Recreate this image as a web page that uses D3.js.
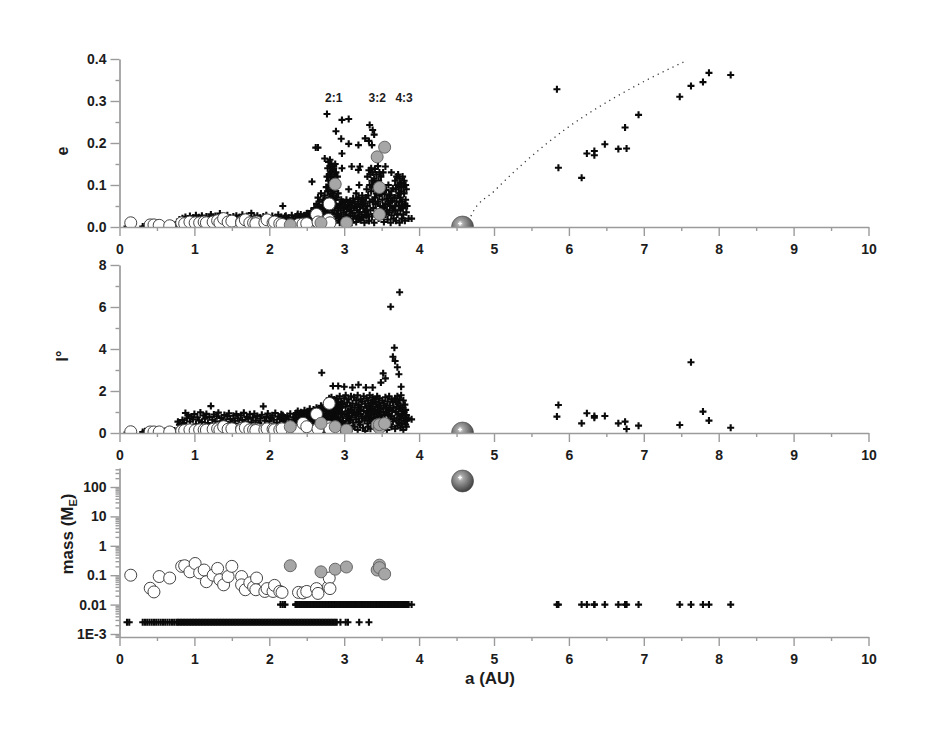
<!DOCTYPE html>
<html><head><meta charset="utf-8">
<script src="https://cdn.jsdelivr.net/npm/d3@7"></script>
<style>body{margin:0;background:#fff}svg{display:block}</style>
</head><body><svg id="c" width="926" height="737"></svg>
<script>
// ---------------- DATA ----------------
const xTickValues = [0,1,2,3,4,5,6,7,8,9,10];
const xMinorTicks = [0.5,1.5,2.5,3.5,4.5,5.5,6.5,7.5,8.5,9.5];
const eTickValues = [0,0.1,0.2,0.3,0.4];
const eTickLabels = ["0.0","0.1","0.2","0.3","0.4"];
const eMinorTicks = [0.05,0.15,0.25,0.35];
const iTickValues = [0,2,4,6,8];
const iMinorTicks = [1,3,5,7];
const massTickValues = [0.001,0.01,0.1,1,10,100];
const massTickLabels = ["1E-3","0.01","0.1","1","10","100"];
const resonanceLabels = ["2:1","3:2","4:3"];
const resonanceA = [2.86,3.44,3.80];

// embryos: [a (AU), e, inclination (deg), mass (M_E)]
const whiteEmbryos = [
 [0.15,0.010,0.06,0.10],[0.41,0.005,0.05,0.036],[0.46,0.005,0.05,0.027],[0.53,0.004,0.05,0.09],
 [0.67,0.003,0.05,0.08],[0.83,0.010,0.10,0.20],[0.87,0.008,0.12,0.21],[0.94,0.012,0.15,0.13],
 [1.01,0.010,0.12,0.25],[1.07,0.010,0.15,0.12],[1.13,0.012,0.15,0.15],[1.16,0.010,0.14,0.06],
 [1.25,0.012,0.18,0.10],[1.31,0.015,0.20,0.17],[1.34,0.010,0.15,0.07],[1.39,0.020,0.30,0.047],
 [1.45,0.012,0.18,0.09],[1.50,0.014,0.20,0.20],[1.63,0.012,0.22,0.09],[1.63,0.010,0.15,0.047],
 [1.68,0.017,0.25,0.032],[1.74,0.010,0.15,0.055],[1.79,0.010,0.15,0.04],[1.83,0.012,0.18,0.08],
 [1.82,0.008,0.12,0.032],[1.94,0.010,0.15,0.028],[1.97,0.017,0.20,0.035],[2.05,0.010,0.18,0.028],
 [2.07,0.012,0.15,0.045],[2.14,0.008,0.15,0.028],[2.17,0.006,0.20,0.026],[2.39,0.006,0.10,0.026],
 [2.45,0.007,0.46,0.025],[2.50,0.008,0.30,0.028],[2.63,0.030,0.90,0.035],[2.65,0.012,0.20,0.024],
 [2.79,0.018,0.30,0.04],[2.80,0.055,1.41,0.08],[2.81,0.010,0.20,0.035]
];
const grayEmbryos = [
 [2.28,0.005,0.30,0.21],[2.69,0.010,0.46,0.13],[2.88,0.102,0.30,0.16],[3.03,0.010,0.14,0.19],
 [3.44,0.167,0.38,0.15],[3.47,0.094,0.24,0.22],[3.47,0.030,0.40,0.18],[3.54,0.190,0.45,0.11]
];
const giantPlanet = [[4.58,0.0,0.0,160]];

// dotted curve (top panel)
const curveA = [4.66,4.70,5.00,5.37,5.97,6.59,7.04,7.57];
const curveE = [0.000,0.029,0.085,0.148,0.235,0.306,0.350,0.396];

// planetesimals: [a, e, inclination]
const massLow = 0.0025;
const massHigh = 0.01;
const planetesimalsLow = [
 [0.10,0.001,0.02],[0.13,0.002,0.03],
 [0.31,0.001,0.05],[0.34,0.002,0.08],[0.37,0.001,0.04],[0.40,0.003,0.10],[0.43,0.002,0.06],[0.46,0.001,0.03],
 [0.49,0.002,0.09],[0.52,0.003,0.05],[0.55,0.001,0.07],[0.58,0.002,0.04],[0.61,0.003,0.10],[0.64,0.002,0.06],
 [0.67,0.001,0.08],[0.70,0.003,0.05],[0.73,0.002,0.12],[0.76,0.004,0.09],
 [0.78,0.012,0.54],[0.80,0.018,0.40],[0.82,0.008,0.30],[0.84,0.021,0.62],[0.86,0.015,0.48],[0.88,0.024,0.95],
 [0.90,0.010,0.70],[0.92,0.019,0.85],[0.94,0.026,0.55],[0.96,0.013,0.78],[0.98,0.022,0.65],[1.00,0.017,0.90],
 [1.02,0.028,0.42],[1.04,0.011,0.75],[1.06,0.023,0.60],[1.08,0.016,0.98],[1.10,0.027,0.52],[1.12,0.009,0.83],
 [1.14,0.020,0.68],[1.16,0.025,0.91],[1.18,0.014,0.47],[1.20,0.022,0.77],[1.22,0.030,1.28],[1.24,0.012,0.63],
 [1.26,0.019,0.88],[1.28,0.026,0.56],[1.30,0.015,0.80],[1.32,0.023,0.97],[1.34,0.032,0.44],[1.36,0.018,0.72],
 [1.38,0.024,0.61],[1.40,0.010,0.86],[1.42,0.021,0.53],[1.44,0.028,0.79],[1.46,0.016,0.94],[1.48,0.022,0.66],
 [1.50,0.013,0.49],[1.52,0.025,0.82],[1.54,0.019,0.58],[1.56,0.027,0.90],[1.58,0.011,0.70],[1.60,0.023,0.45],
 [1.62,0.017,0.84],[1.64,0.029,0.62],[1.66,0.014,0.96],[1.68,0.021,0.54],[1.70,0.026,0.77],[1.72,0.012,0.68],
 [1.74,0.020,0.89],[1.76,0.033,0.51],[1.78,0.016,0.74],[1.80,0.024,0.92],[1.82,0.018,0.59],[1.84,0.027,0.81],
 [1.86,0.010,0.47],[1.88,0.022,0.69],[1.90,0.015,0.87],[1.92,0.025,1.27],[1.94,0.019,0.58],[1.96,0.028,0.76],
 [1.98,0.013,0.93],[2.00,0.021,0.55],[2.02,0.017,0.71],[2.04,0.026,0.84],[2.06,0.011,0.63],[2.08,0.023,0.95],
 [2.10,0.019,0.50],[2.12,0.029,0.78],[2.14,0.014,0.66],[2.16,0.024,0.89],[2.18,0.050,0.57],[2.20,0.018,0.73],
 [2.22,0.027,0.46],[2.24,0.012,0.81],[2.26,0.022,0.64],[2.28,0.016,0.92],[2.30,0.028,0.52],[2.32,0.020,0.75],
 [2.34,0.013,0.60],[2.36,0.025,0.86],[2.38,0.031,0.48],[2.40,0.017,0.69],[2.42,0.023,0.94],[2.44,0.010,0.56],
 [2.46,0.027,0.80],[2.48,0.019,0.43],[2.50,0.032,0.98],[2.52,0.015,0.62],[2.54,0.026,1.15],[2.56,0.038,0.74],
 [2.58,0.021,0.40],[2.60,0.045,1.05],[2.62,0.012,0.55],[2.64,0.033,1.12],[2.66,0.050,0.30],[2.68,0.024,0.85],
 [2.70,0.041,0.20],[2.72,0.018,1.20],[2.74,0.062,0.65],[2.76,0.035,0.10],[2.78,0.085,1.35],[2.80,0.048,0.45],
 [2.82,0.120,1.60],[2.84,0.070,0.25],[2.86,0.140,0.90],[2.88,0.095,1.45],[2.90,0.030,0.35],
 [2.95,0.015,0.60],[3.02,0.025,0.40],[3.05,0.010,0.80],[3.20,0.020,0.50],[3.33,0.015,0.70]
];
const planetesimalsHigh = [
 [2.15,0.020,0.72],[2.18,0.015,0.85],[2.21,0.025,0.66],
 [2.35,0.018,0.75],[2.36,0.010,0.95],[2.37,0.026,0.58],[2.38,0.014,1.05],[2.40,0.022,0.82],[2.41,0.008,0.68],
 [2.42,0.030,0.99],[2.43,0.017,0.52],[2.45,0.024,0.88],[2.46,0.012,0.71],[2.47,0.028,1.08],[2.48,0.020,0.62],
 [2.50,0.015,0.93],[2.51,0.033,0.78],[2.52,0.011,0.55],[2.53,0.025,1.02],[2.55,0.019,0.84],[2.56,0.029,0.47],
 [2.57,0.013,0.97],[2.58,0.036,0.69],[2.59,0.022,1.12],[2.60,0.009,0.58],
 [2.61,0.040,0.30],[2.62,0.027,0.90],[2.63,0.055,1.20],[2.63,0.015,0.15],[2.64,0.035,0.62],[2.65,0.070,1.02],
 [2.65,0.022,0.40],[2.66,0.048,0.80],[2.67,0.010,1.15],[2.67,0.060,0.25],[2.68,0.030,0.95],[2.69,0.043,0.50],
 [2.69,0.080,1.30],[2.70,0.018,0.70],[2.71,0.052,0.10],[2.71,0.034,1.10],[2.72,0.065,0.55],[2.72,0.012,0.85],
 [2.73,0.045,1.25],[2.73,0.025,0.35],[2.74,0.075,0.75],[2.74,0.038,0.05],[2.75,0.058,1.05],[2.75,0.020,0.60],
 [2.76,0.095,0.90],[2.76,0.040,1.40],[2.77,0.120,0.30],[2.77,0.060,1.10],[2.77,0.015,0.65],[2.78,0.140,1.55],
 [2.78,0.085,0.45],[2.78,0.030,1.00],[2.79,0.110,0.20],[2.79,0.050,1.30],[2.79,0.155,0.80],[2.80,0.070,1.65],
 [2.80,0.125,0.55],[2.80,0.020,1.20],[2.81,0.100,0.95],[2.81,0.045,0.35],[2.81,0.145,1.45],[2.82,0.080,0.70],
 [2.82,0.130,1.15],[2.82,0.010,0.50],[2.83,0.105,1.70],[2.83,0.060,0.15],[2.83,0.150,0.85],[2.84,0.090,1.25],
 [2.84,0.035,0.60],[2.84,0.135,0.40],[2.85,0.115,1.05],[2.85,0.075,1.50],[2.85,0.025,0.90],[2.86,0.145,0.25],
 [2.86,0.055,1.35],[2.86,0.100,0.70],[2.87,0.125,1.60],[2.87,0.040,1.00],[2.87,0.085,0.45],[2.88,0.150,1.20],
 [2.88,0.065,0.80],[2.88,0.015,1.55],[2.89,0.110,0.55],[2.89,0.130,1.40],[2.89,0.050,0.30],[2.90,0.095,1.10],
 [2.90,0.070,1.65],[2.91,0.120,0.65],[2.91,0.030,1.25],[2.92,0.080,0.90],[2.92,0.045,1.45],
 [2.93,0.020,0.40],[2.94,0.055,1.20],[2.94,0.010,1.75],[2.95,0.040,0.75],[2.96,0.065,0.15],[2.96,0.025,1.50],
 [2.97,0.050,1.00],[2.98,0.012,0.55],[2.98,0.060,1.35],[2.99,0.035,0.25],[3.00,0.045,1.65],[3.00,0.018,0.90],
 [3.01,0.058,0.45],[3.02,0.030,1.25],[3.02,0.008,1.80],[3.03,0.065,0.70],[3.04,0.042,0.10],[3.04,0.022,1.45],
 [3.05,0.052,1.05],[3.06,0.015,0.35],[3.06,0.090,1.60],[3.07,0.038,0.80],[3.08,0.062,1.30],[3.08,0.026,0.60],
 [3.09,0.048,1.75],[3.10,0.010,1.10],[3.10,0.057,0.20],[3.11,0.033,1.40],[3.12,0.068,0.95],[3.12,0.020,0.50],
 [3.13,0.045,1.70],[3.14,0.060,0.30],[3.14,0.028,1.20],[3.15,0.050,0.85],[3.16,0.012,1.55],[3.16,0.080,0.65],
 [3.17,0.040,1.00],[3.18,0.055,0.15],[3.18,0.024,1.80],[3.19,0.066,1.35],[3.20,0.035,0.55],[3.20,0.100,1.10],
 [3.21,0.047,0.40],[3.22,0.016,1.60],[3.22,0.060,0.90],[3.23,0.030,1.25],[3.24,0.052,0.70],[3.24,0.075,1.50],
 [3.25,0.022,0.25],[3.26,0.044,1.75],[3.26,0.064,1.05],[3.27,0.010,0.60],[3.28,0.056,1.40],[3.28,0.036,0.10],
 [3.29,0.070,0.80],[3.30,0.026,1.20],
 [3.30,0.090,1.65],[3.31,0.050,0.45],[3.31,0.120,1.00],[3.32,0.030,1.55],[3.32,0.075,0.30],[3.33,0.135,0.85],
 [3.33,0.015,1.30],[3.34,0.100,0.60],[3.34,0.060,1.80],[3.35,0.125,1.15],[3.35,0.040,0.20],[3.36,0.085,1.45],
 [3.36,0.140,0.70],[3.37,0.025,1.00],[3.37,0.110,0.50],[3.38,0.065,1.70],[3.38,0.130,1.25],[3.39,0.045,0.35],
 [3.39,0.095,0.90],[3.40,0.115,1.60],[3.40,0.010,0.75],[3.41,0.070,1.10],[3.41,0.138,0.25],[3.42,0.055,1.50],
 [3.42,0.105,0.60],[3.43,0.080,1.35],[3.43,0.125,0.95],[3.44,0.035,1.75],[3.44,0.090,0.15],[3.45,0.145,1.20],
 [3.45,0.060,0.80],[3.46,0.110,1.45],[3.46,0.020,0.40],[3.47,0.075,1.00],[3.47,0.130,1.65],[3.48,0.050,0.55],
 [3.48,0.100,1.30],[3.49,0.120,0.85],[3.49,0.040,1.15],[3.50,0.085,0.30],
 [3.51,0.065,1.55],[3.51,0.025,0.70],[3.52,0.095,1.00],[3.53,0.045,1.40],[3.53,0.012,0.25],[3.54,0.078,0.85],
 [3.55,0.055,1.70],[3.55,0.030,0.50],[3.56,0.088,1.20],[3.57,0.040,0.95],[3.57,0.068,0.15],[3.58,0.018,1.50],
 [3.59,0.060,0.65],[3.59,0.100,1.10],[3.60,0.035,1.75],[3.61,0.075,0.40],[3.61,0.050,1.30],[3.62,0.010,0.80],
 [3.63,0.085,1.60],[3.63,0.028,0.30],[3.64,0.062,1.05],[3.65,0.045,0.55],[3.65,0.092,1.45],[3.66,0.020,1.20],
 [3.67,0.070,0.70],
 [3.68,0.110,1.65],[3.68,0.040,0.20],[3.69,0.090,1.00],[3.69,0.015,1.50],[3.70,0.120,0.60],[3.70,0.060,1.25],
 [3.71,0.100,0.35],[3.71,0.030,1.75],[3.72,0.075,0.90],[3.72,0.125,1.40],[3.73,0.050,0.50],[3.73,0.095,1.15],
 [3.74,0.010,0.80],[3.74,0.115,1.60],[3.75,0.070,0.25],[3.75,0.040,1.30],[3.76,0.105,0.70],[3.76,0.085,1.80],
 [3.77,0.020,1.05],[3.77,0.060,0.45],[3.78,0.120,1.20],[3.78,0.045,0.90],[3.79,0.095,1.55],[3.79,0.030,0.15],
 [3.80,0.080,1.00],[3.80,0.110,0.60],[3.81,0.055,1.35],[3.81,0.015,0.75],[3.82,0.100,0.40],[3.82,0.065,1.10],
 [3.83,0.035,0.85],[3.83,0.090,0.30],[3.84,0.050,0.60],[3.86,0.020,0.70],[3.90,0.020,0.65],
 // scattered high-e
 [2.57,0.108,0.90],[2.62,0.189,1.00],[2.65,0.189,0.60],[2.74,0.163,1.30],[2.77,0.269,0.80],[2.81,0.160,1.10],
 [2.89,0.228,0.70],[2.96,0.210,1.20],[2.97,0.175,0.50],[2.97,0.140,1.40],[2.97,0.255,0.90],[3.06,0.257,1.00],
 [3.06,0.198,0.60],[3.10,0.144,0.75],[3.19,0.195,1.30],[3.19,0.136,0.80],[3.21,0.144,1.10],[3.28,0.211,0.70],
 [3.33,0.205,1.20],[3.34,0.243,0.90],[3.38,0.231,0.50],[3.40,0.220,1.00],[3.37,0.195,1.40],[3.52,0.130,0.60],
 [3.55,0.144,1.20],[3.60,0.076,0.90],[3.63,0.130,0.80],[3.77,0.050,1.10],
 // scattered high-i
 [2.70,0.040,2.87],[2.85,0.060,2.24],[2.92,0.030,2.24],[3.00,0.050,2.20],[3.11,0.050,2.17],[3.19,0.070,2.30],
 [3.29,0.040,2.17],[3.38,0.060,2.17],[3.49,0.080,2.40],[3.52,0.050,2.84],[3.55,0.030,2.60],[3.62,0.060,6.01],
 [3.65,0.040,3.63],[3.67,0.070,4.06],[3.68,0.050,3.43],[3.71,0.030,3.13],[3.73,0.080,2.80],[3.74,0.060,6.70],
 [3.76,0.045,2.20],
 // outer scattered
 [5.84,0.328,0.78],[5.86,0.141,1.33],[6.17,0.117,0.46],[6.24,0.175,0.94],[6.34,0.181,0.81],[6.34,0.171,0.73],
 [6.48,0.197,0.81],[6.66,0.186,0.46],[6.75,0.237,0.54],[6.77,0.187,0.19],[6.93,0.267,0.35],[7.48,0.310,0.38],
 [7.63,0.336,3.37],[7.79,0.345,1.02],[7.87,0.367,0.59],[8.16,0.362,0.25]
];

// ---------------- DRAWING ----------------
const FONT = 'Arial, "Liberation Sans", sans-serif';
const TXT = '#1c1c1c';
const AXC = '#9b9b9b';
const svg = d3.select('#c');

const x = d3.scaleLinear().domain([0,10]).range([119.5,868.5]);
const yE = d3.scaleLinear().domain([0,0.4]).range([227,59]);
const yI = d3.scaleLinear().domain([0,8]).range([433,265]);
const yM = d3.scaleLog().domain([7.9e-4,443]).range([637,468]);

const defs = svg.append('defs');
const grad = defs.append('radialGradient').attr('id','gg').attr('cx','40%').attr('cy','35%').attr('r','68%');
grad.append('stop').attr('offset','0%').attr('stop-color','#e6e6e6');
grad.append('stop').attr('offset','22%').attr('stop-color','#a4a4a4');
grad.append('stop').attr('offset','65%').attr('stop-color','#6a6a6a');
grad.append('stop').attr('offset','100%').attr('stop-color','#3c3c3c');

const lowRows = planetesimalsLow.map(d => [d[0],d[1],d[2],massLow]);
const highRows = planetesimalsHigh.map(d => [d[0],d[1],d[2],massHigh]);
const allPlan = lowRows.concat(highRows);

const panels = [
  {id:'pe', y:yE, k:1, clip:[40,227]},
  {id:'pi', y:yI, k:2, clip:[250,433]},
  {id:'pm', y:yM, k:3, clip:[455,637]}
];

const crossPath = 'M-3.5,0H3.5M0,-3.5V3.5';

panels.forEach(p => {
  defs.append('clipPath').attr('id','clip-'+p.id).append('rect')
    .attr('x',119.5).attr('y',p.clip[0]).attr('width',749).attr('height',p.clip[1]-p.clip[0]);
  const g = svg.append('g').attr('clip-path','url(#clip-'+p.id+')');
  // planetesimals
  g.append('g').selectAll('path').data(allPlan).join('path')
    .attr('d',crossPath)
    .attr('transform',d => `translate(${x(d[0])},${p.y(d[p.k])})`)
    .attr('stroke','#0a0a0a').attr('stroke-width',2.1).attr('fill','none');
  if (p.k === 1) {
    const pts = curveA.map((a,i)=>[a,curveE[i]]);
    g.append('path').datum(pts)
      .attr('d', d3.line().x(d=>x(d[0])).y(d=>yE(d[1])).curve(d3.curveMonotoneX))
      .attr('fill','none').attr('stroke','#333').attr('stroke-width',1.3)
      .attr('stroke-dasharray','1.2,4.3');
  }
  g.append('g').selectAll('circle').data(whiteEmbryos).join('circle')
    .attr('cx',d=>x(d[0])).attr('cy',d=>p.y(d[p.k])).attr('r',6)
    .attr('fill','#fff').attr('stroke','#444').attr('stroke-width',1);
  g.append('g').selectAll('circle').data(grayEmbryos).join('circle')
    .attr('cx',d=>x(d[0])).attr('cy',d=>p.y(d[p.k])).attr('r',6)
    .attr('fill','#a6a6a6').attr('stroke','#666').attr('stroke-width',1);
  const gg = g.append('g').selectAll('g').data(giantPlanet).join('g')
    .attr('transform',d=>`translate(${x(d[0])},${p.y(d[p.k])})`);
  gg.append('circle').attr('r',11).attr('fill','url(#gg)').attr('stroke','#444').attr('stroke-width',0.6);
  gg.append('path').attr('d','M-4.5,-3.5H-0.5M-2.5,-5.5V-1.5').attr('stroke','#fff').attr('stroke-width',1.2);
});

function styleAxis(g, minor){
  g.attr('font-family',FONT).attr('font-size',14).attr('font-weight','bold');
  if (minor) g.select('.domain').remove();
  else g.select('.domain').attr('stroke',AXC).attr('stroke-width',1.7);
  g.selectAll('.tick line').attr('stroke',AXC).attr('stroke-width',1.4);
  g.selectAll('.tick text').attr('fill',TXT);
}

// x axes
[227,433,637].forEach(yy => {
  svg.append('g').attr('transform',`translate(0,${yy})`)
    .call(d3.axisBottom(x).tickValues(xMinorTicks).tickSize(4).tickSizeOuter(0).tickFormat(()=>''))
    .call(g=>styleAxis(g,true));
  svg.append('g').attr('transform',`translate(0,${yy})`)
    .call(d3.axisBottom(x).tickValues(xTickValues).tickSize(9).tickPadding(8).tickSizeOuter(0).tickFormat(d3.format('d')))
    .call(g=>styleAxis(g,false));
});

// y axes
svg.append('g').attr('transform','translate(119.5,0)')
  .call(d3.axisLeft(yE).tickValues(eMinorTicks).tickSize(4).tickSizeOuter(0).tickFormat(()=>''))
  .call(g=>styleAxis(g,true));
svg.append('g').attr('transform','translate(119.5,0)')
  .call(d3.axisLeft(yE).tickValues(eTickValues).tickSize(9).tickPadding(4).tickSizeOuter(0).tickFormat((d,i)=>eTickLabels[i]))
  .call(g=>styleAxis(g,false));

svg.append('g').attr('transform','translate(119.5,0)')
  .call(d3.axisLeft(yI).tickValues(iMinorTicks).tickSize(4).tickSizeOuter(0).tickFormat(()=>''))
  .call(g=>styleAxis(g,true));
svg.append('g').attr('transform','translate(119.5,0)')
  .call(d3.axisLeft(yI).tickValues(iTickValues).tickSize(9).tickPadding(4).tickSizeOuter(0).tickFormat(d3.format('d')))
  .call(g=>styleAxis(g,false));

const logMinor = yM.ticks().filter(v => massTickValues.every(m => Math.abs(Math.log10(v/m))>1e-6));
svg.append('g').attr('transform','translate(119.5,0)')
  .call(d3.axisLeft(yM).tickValues(logMinor).tickSize(4).tickSizeOuter(0).tickFormat(()=>''))
  .call(g=>styleAxis(g,true));
svg.append('g').attr('transform','translate(119.5,0)')
  .call(d3.axisLeft(yM).tickValues(massTickValues).tickSize(9).tickPadding(4).tickSizeOuter(0).tickFormat((d,i)=>massTickLabels[i]))
  .call(g=>styleAxis(g,false));

// resonance labels
svg.append('g').selectAll('text').data(resonanceLabels).join('text')
  .attr('x',(d,i)=>x(resonanceA[i])).attr('y',102)
  .attr('text-anchor','middle').attr('font-family',FONT).attr('font-weight','bold')
  .attr('font-size',12).attr('fill',TXT).text(d=>d);

// axis titles
svg.append('text').attr('transform','translate(68,151) rotate(-90)')
  .attr('text-anchor','middle').attr('font-family',FONT).attr('font-weight','bold')
  .attr('font-size',16).attr('fill',TXT).text('e');
svg.append('text').attr('transform','translate(68,356) rotate(-90)')
  .attr('text-anchor','middle').attr('font-family',FONT).attr('font-weight','bold')
  .attr('font-size',16).attr('fill',TXT).text('I°');
const mt = svg.append('text').attr('transform','translate(72.5,534) rotate(-90)')
  .attr('text-anchor','middle').attr('font-family',FONT).attr('font-weight','bold')
  .attr('font-size',17).attr('fill',TXT);
mt.append('tspan').text('mass (M');
mt.append('tspan').attr('font-size',11).attr('dy',4).text('E');
mt.append('tspan').attr('dy',-4).text(')');
svg.append('text').attr('x',490).attr('y',684)
  .attr('text-anchor','middle').attr('font-family',FONT).attr('font-weight','bold')
  .attr('font-size',17).attr('fill',TXT).text('a (AU)');
</script>
</body></html>
